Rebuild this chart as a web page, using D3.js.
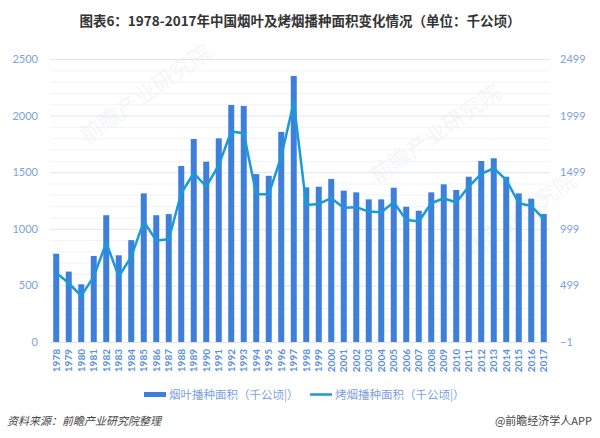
<!DOCTYPE html>
<html>
<head>
<meta charset="utf-8">
<script src="https://cdn.jsdelivr.net/npm/d3@7"></script>
<style>
  body { margin: 0; background: #fff; }
  text { font-family: Lato, "Noto Sans CJK SC", sans-serif; }
</style>
</head>
<body>
<div id="chart-area"></div>
<script>
const width = 600;
const height = 438;

// data
const years = d3.range(1978, 2018).map(String);
const leafArea = [780, 622, 510, 760, 1120, 766, 900, 1313, 1120, 1130,
    1555, 1793, 1593, 1799, 2094, 2085, 1483, 1468, 1856, 2350,
    1366, 1372, 1440, 1337, 1322, 1260, 1260, 1363, 1195, 1160,
    1322, 1393, 1343, 1460, 1599, 1623, 1460, 1313, 1266, 1131];
const fluArea = [612, 518, 406, 577, 877, 577, 753, 1063, 895, 907,
    1313, 1490, 1372, 1562, 1858, 1843, 1305, 1305, 1637, 2118,
    1210, 1219, 1269, 1186, 1190, 1151, 1146, 1234, 1078, 1063,
    1225, 1269, 1231, 1372, 1484, 1534, 1431, 1225, 1201, 1084];
const leftTicks = [0, 500, 1000, 1500, 2000, 2500];
const rightTicks = [-1, 499, 999, 1499, 1999, 2499];
const seriesNames = ["烟叶播种面积（千公顷|）", "烤烟播种面积（千公顷|）"];

const barColor = "#3e7fdc";
const lineColor = "#1a9ad8";
const tickColor = "#7d9fe2";

const svg = d3.select("#chart-area")
    .append("svg")
    .attr("width", width)
    .attr("height", height);

const x = d3.scaleBand()
    .domain(years)
    .range([50, 550])
    .paddingInner(0.52)
    .paddingOuter(0.26);

const y = d3.scaleLinear().domain([0, 2500]).range([342, 59]);
const yR = d3.scaleLinear().domain([-1, 2499]).range([342, 59]);

// watermarks
[[150, 100], [440, 140], [515, 228]].forEach(p => {
    svg.append("text")
        .attr("transform", `translate(${p[0]},${p[1]}) rotate(-35)`)
        .attr("text-anchor", "middle")
        .style("font-size", "22px")
        .style("font-family", "'Noto Sans CJK SC'")
        .attr("fill", "#000")
        .attr("opacity", 0.035)
        .text("前瞻产业研究院");
});

// grid: faint every 100, stronger every 500
svg.append("g")
    .selectAll("line")
    .data(d3.range(0, 2600, 100))
    .join("line")
    .attr("x1", 50)
    .attr("x2", 550)
    .attr("y1", d => y(d) + 0.5)
    .attr("y2", d => y(d) + 0.5)
    .attr("stroke", d => d % 500 === 0 ? "#dfe5f0" : "#f1f3f8")
    .attr("stroke-width", 1);

// axes
const leftAxis = svg.append("g")
    .attr("transform", "translate(38,0)")
    .call(d3.axisLeft(y).tickValues(leftTicks).tickFormat(d3.format("d")).tickSize(0).tickPadding(0));
const rightAxis = svg.append("g")
    .attr("transform", "translate(560,0)")
    .call(d3.axisRight(yR).tickValues(rightTicks).tickFormat(d3.format("d")).tickSize(0).tickPadding(0));
[leftAxis, rightAxis].forEach(g => {
    g.select(".domain").remove();
    g.selectAll("text")
        .attr("fill", tickColor)
        .style("font-size", "11px")
        .style("font-family", "Lato");
});

// bars
svg.append("g")
    .selectAll("rect")
    .data(leafArea)
    .join("rect")
    .attr("x", (d, i) => x(years[i]))
    .attr("y", d => y(d))
    .attr("width", x.bandwidth())
    .attr("height", d => y(0) - y(d))
    .attr("fill", barColor);

// line on the right axis
const line = d3.line()
    .x((d, i) => x(years[i]) + x.bandwidth() / 2)
    .y(d => yR(d));

svg.append("path")
    .datum(fluArea)
    .attr("d", line)
    .attr("fill", "none")
    .attr("stroke", lineColor)
    .attr("stroke-width", 2.5)
    .attr("stroke-linejoin", "round");

// x labels
svg.append("g")
    .selectAll("text")
    .data(years)
    .join("text")
    .attr("transform", d => `translate(${x(d) + x.bandwidth() / 2 + 3.5},349) rotate(-90)`)
    .attr("text-anchor", "end")
    .attr("fill", "#5b8fdc")
    .style("font-size", "10px")
    .style("font-weight", "bold")
    .text(d => d);

// legend
const legend = svg.append("g");
legend.append("rect")
    .attr("x", 144).attr("y", 392)
    .attr("width", 22).attr("height", 5)
    .attr("fill", barColor);
legend.append("text")
    .attr("x", 169).attr("y", 398.5)
    .attr("fill", tickColor)
    .style("font-size", "11.5px")
    .style("font-family", "'Noto Sans CJK SC'")
    .text(seriesNames[0]);
legend.append("line")
    .attr("x1", 310).attr("x2", 332)
    .attr("y1", 394.5).attr("y2", 394.5)
    .attr("stroke", lineColor)
    .attr("stroke-width", 2.5);
legend.append("text")
    .attr("x", 335).attr("y", 398.5)
    .attr("fill", tickColor)
    .style("font-size", "11.5px")
    .style("font-family", "'Noto Sans CJK SC'")
    .text(seriesNames[1]);

// title
svg.append("text")
    .attr("x", 300).attr("y", 26)
    .attr("text-anchor", "middle")
    .attr("fill", "#333")
    .style("font-size", "13.5px")
    .style("font-weight", "bold")
    .style("font-family", "'Noto Sans CJK SC'")
    .text("图表6：1978-2017年中国烟叶及烤烟播种面积变化情况（单位：千公顷）");

// footer
svg.append("text")
    .attr("x", 7).attr("y", 425)
    .attr("fill", "#444")
    .style("font-size", "11px")
    .style("font-style", "italic")
    .style("font-family", "'Noto Sans CJK SC'")
    .text("资料来源：前瞻产业研究院整理");
svg.append("text")
    .attr("x", 592).attr("y", 425)
    .attr("text-anchor", "end")
    .attr("fill", "#444")
    .style("font-size", "11px")
    .style("font-family", "'Noto Sans CJK SC'")
    .text("@前瞻经济学人APP");
</script>
</body>
</html>
